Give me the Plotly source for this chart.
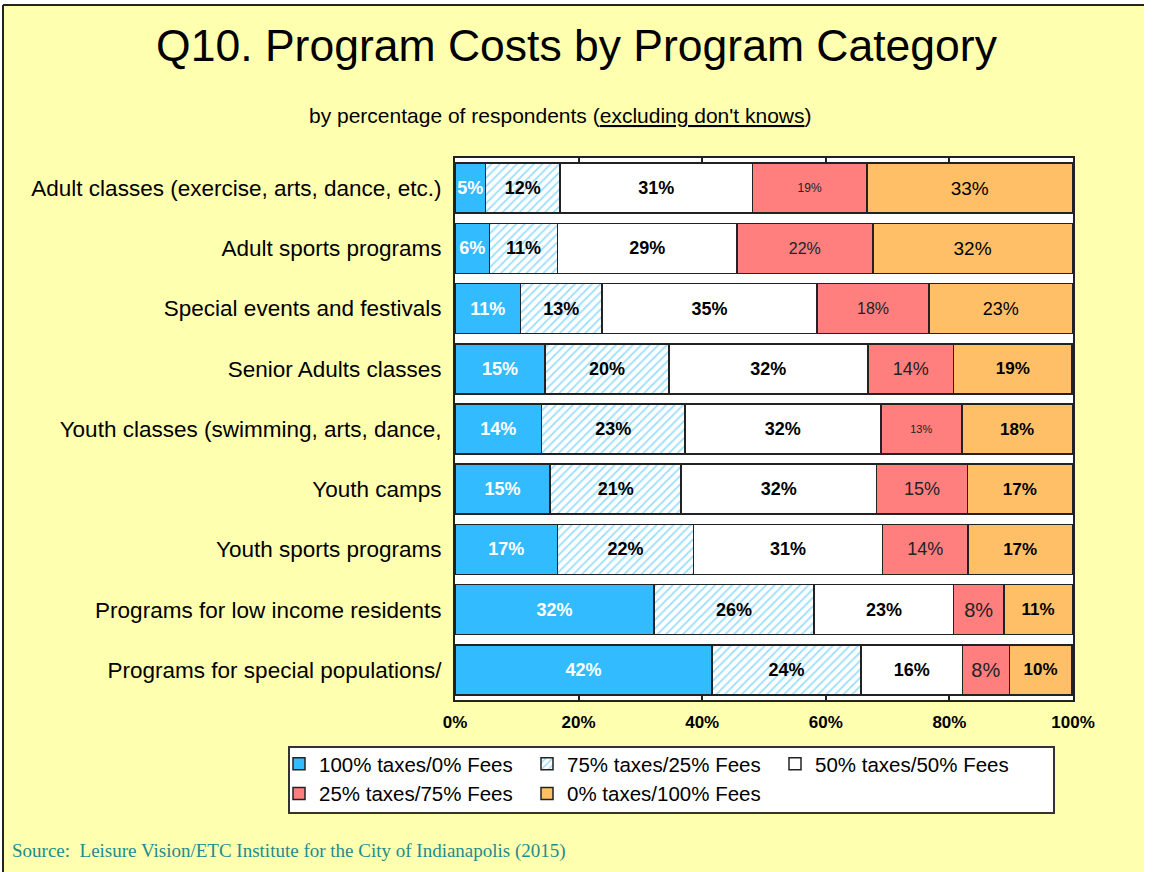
import plotly.graph_objects as go

# ---------------- data ----------------
categories = [
    "Adult classes (exercise, arts, dance, etc.)",
    "Adult sports programs",
    "Special events and festivals",
    "Senior Adults classes",
    "Youth classes (swimming, arts, dance,",
    "Youth camps",
    "Youth sports programs",
    "Programs for low income residents",
    "Programs for special populations/",
]
series_names = [
    "100% taxes/0% Fees",
    "75% taxes/25% Fees",
    "50% taxes/50% Fees",
    "25% taxes/75% Fees",
    "0% taxes/100% Fees",
]
taxes100 = [4.9, 5.6, 10.6, 14.6, 14.0, 15.4, 16.6, 32.2, 41.6]
taxes75 = [12.1, 11.0, 13.2, 20.0, 23.2, 21.2, 22.0, 25.9, 24.1]
taxes50 = [31.1, 29.0, 34.8, 32.2, 31.7, 31.6, 30.6, 22.6, 16.4]
taxes25 = [18.6, 22.0, 18.1, 13.9, 13.1, 14.7, 13.8, 8.1, 7.6]
taxes0 = [33.2, 32.3, 23.2, 19.1, 17.9, 17.0, 16.9, 11.1, 10.1]
x_ticks = [0, 20, 40, 60, 80, 100]
x_tick_labels = ["0%", "20%", "40%", "60%", "80%", "100%"]

# ---------------- styles ----------------
W, H = 1153, 872
L, R, T, B = 455, 1073, 158, 700
FONT = "Arial, 'Liberation Sans', sans-serif"
BG = "#FFFFB0"


def fx(px):
    return (px - L) / (R - L)


def fy(py):
    return (B - py) / (B - T)


def labels(vals, bold):
    out = []
    for v, b in zip(vals, bold):
        s = f"{round(v)}%"
        out.append(f"<b>{s}</b>" if b else s)
    return out


n = len(categories)
label_sizes = {
    0: [18] * n,
    1: [18] * n,
    2: [18] * n,
    3: [12, 16, 16, 18, 11, 18, 18, 20, 20],
    4: [19, 19, 18, 17, 17, 17, 17, 17, 17],
}
label_bold = {
    0: [True] * n,
    1: [True] * n,
    2: [True] * n,
    3: [False] * n,
    4: [False, False, False, True, True, True, True, True, True],
}
colors = ["#33BBFF", "#FFFFFF", "#FFFFFF", "#FF7F7F", "#FFBF66"]
text_colors = ["#FFFFFF", "#000000", "#000000", "#222222", "#000000"]
groups = ["c1", "c2", "c3", "c1", "c2"]
all_vals = [taxes100, taxes75, taxes50, taxes25, taxes0]

fig = go.Figure()
for i, (name, vals) in enumerate(zip(series_names, all_vals)):
    marker = dict(color=colors[i], line=dict(color="#222222", width=1.5))
    if i == 1:
        marker["pattern"] = dict(shape="/", fgcolor="#33BBFF", bgcolor="#FFFFFF",
                                 size=6, solidity=0.3)
    fig.add_trace(go.Bar(
        y=categories, x=vals, name=name, orientation="h",
        marker=marker,
        text=labels(vals, label_bold[i]),
        textposition="inside", insidetextanchor="middle",
        textangle=0, constraintext="none",
        textfont=dict(family=FONT, size=label_sizes[i], color=text_colors[i]),
        legendgroup=groups[i], hoverinfo="skip", cliponaxis=False,
    ))

shapes = [
    # white outer strips
    dict(type="rect", xref="paper", yref="paper", x0=fx(1144), x1=fx(W + 5),
         y0=fy(-5), y1=fy(H + 5), fillcolor="white", line=dict(width=0)),
    dict(type="rect", xref="paper", yref="paper", x0=fx(-5), x1=fx(W + 5),
         y0=fy(-5), y1=fy(4), fillcolor="white", line=dict(width=0)),
    dict(type="rect", xref="paper", yref="paper", x0=fx(-5), x1=fx(2.5),
         y0=fy(-5), y1=fy(H + 5), fillcolor="white", line=dict(width=0)),
    # black frame lines
    dict(type="line", xref="paper", yref="paper", x0=fx(3), x1=fx(1144),
         y0=fy(5), y1=fy(5), line=dict(color="#222222", width=2)),
    dict(type="line", xref="paper", yref="paper", x0=fx(3), x1=fx(3),
         y0=fy(5), y1=fy(H + 5), line=dict(color="#222222", width=2)),
    # legend box
    dict(type="rect", xref="paper", yref="paper", x0=fx(289), x1=fx(1054),
         y0=fy(813), y1=fy(747), fillcolor="white",
         line=dict(color="#333333", width=2)),
]

fig.update_layout(
    width=W, height=H,
    margin=dict(l=L, r=W - R, t=T, b=H - B, pad=0),
    paper_bgcolor=BG, plot_bgcolor="#FFFFFF",
    barmode="stack", bargap=0.17,
    title=dict(text="Q10. Program Costs by Program Category",
               font=dict(family=FONT, size=44.5, color="#000000"),
               x=0.5, xref="container", xanchor="center",
               y=1 - 45 / H, yref="container", yanchor="middle"),
    showlegend=True,
    legend=dict(orientation="h", traceorder="grouped",
                x=fx(279), y=fy(744), xanchor="left", yanchor="top",
                bgcolor="rgba(0,0,0,0)", borderwidth=0,
                font=dict(family=FONT, size=20.5, color="#000000"),
                entrywidth=203, entrywidthmode="pixels", tracegroupgap=0),
    xaxis=dict(range=[0, 100], tickvals=x_ticks, ticktext=x_tick_labels,
               tickfont=dict(family=FONT, size=17, color="#000000", weight="bold"),
               showgrid=False, zeroline=False,
               showline=True, linecolor="#222222", linewidth=2, mirror="ticks",
               ticks="inside", ticklen=4, tickcolor="#222222", tickwidth=1.5,
               ticklabelstandoff=6, fixedrange=True),
    yaxis=dict(autorange="reversed", showgrid=False, zeroline=False,
               showline=True, linecolor="#222222", linewidth=2, mirror=True,
               ticks="", ticklabelstandoff=7,
               tickfont=dict(family=FONT, size=22.5, color="#000000"),
               fixedrange=True),
    shapes=shapes,
    annotations=[
        dict(text="by percentage of respondents (<u>excluding don't knows</u>)",
             xref="paper", yref="paper", x=fx(560), y=fy(115),
             xanchor="center", yanchor="middle", showarrow=False,
             font=dict(family=FONT, size=21, color="#000000")),
        dict(text="Source:  Leisure Vision/ETC Institute for the City of Indianapolis (2015)",
             xref="paper", yref="paper", x=fx(10), y=fy(851),
             xanchor="left", yanchor="middle", showarrow=False,
             font=dict(family="'Times New Roman', 'Liberation Serif', serif",
                       size=19, color="#1E8C8C")),
    ],
)

fig.write_html("out.html", config={"displayModeBar": False},
               post_script="document.body.style.margin='0';")
